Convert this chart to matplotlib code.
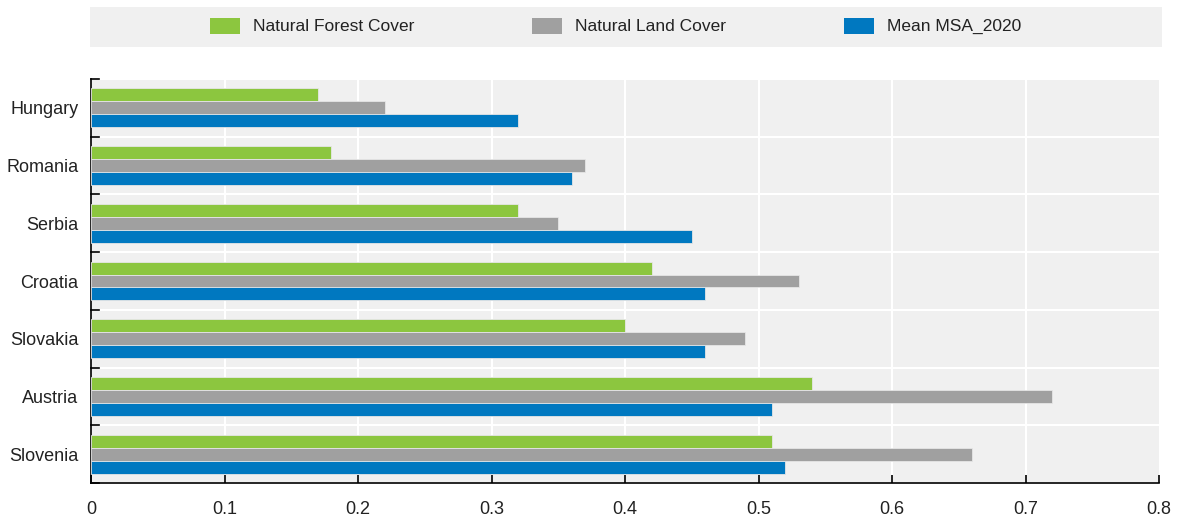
import matplotlib
matplotlib.use("Agg")
import matplotlib.pyplot as plt
from matplotlib.patches import Rectangle
import numpy as np

countries = ["Hungary", "Romania", "Serbia", "Croatia", "Slovakia", "Austria", "Slovenia"]
forest = [0.17, 0.18, 0.32, 0.42, 0.40, 0.54, 0.51]
land = [0.22, 0.37, 0.35, 0.53, 0.49, 0.72, 0.66]
msa = [0.32, 0.36, 0.45, 0.46, 0.46, 0.51, 0.52]
series_names = ["Natural Forest Cover", "Natural Land Cover", "Mean MSA_2020"]
colors = ["#8cc63f", "#a0a0a0", "#0078c0"]
xticks = [0, 0.1, 0.2, 0.3, 0.4, 0.5, 0.6, 0.7, 0.8]
xticklabels = ["0", "0.1", "0.2", "0.3", "0.4", "0.5", "0.6", "0.7", "0.8"]

plt.rcParams['font.family'] = ['Liberation Sans', 'DejaVu Sans']

W, H = 1179, 521
fig = plt.figure(figsize=(W/100, H/100), dpi=100)
ax = fig.add_axes([91/W, 1-483/H, (1159-91)/W, (483-79)/H])
ax.set_facecolor("#f0f0f0")

y = np.arange(len(countries))
h = 0.225
for i, (vals, c) in enumerate(zip([forest, land, msa], colors)):
    ax.barh(y + (i-1)*h, vals, height=h, color=c, edgecolor="#e6e6e6", linewidth=0.6, zorder=3)

ax.set_xlim(0, 0.8)
ax.set_ylim(len(countries)-0.5, -0.5)
ax.set_xticks(xticks)
ax.set_xticklabels(xticklabels, fontsize=13, color="#222222")
ax.set_yticks(y)
ax.set_yticklabels(countries, fontsize=13, color="#222222")
ax.tick_params(axis='y', length=0, pad=9)
ax.tick_params(axis='x', direction='in', length=6, width=1.2, pad=13)
for yb in np.arange(-0.5, len(countries), 1.0):
    ax.axhline(yb, color="white", lw=1.5, zorder=1)
    ax.plot([0, 0.006], [yb, yb], color="black", lw=1.2, zorder=5, clip_on=False)
for xv in xticks[1:-1]:
    ax.axvline(xv, color="white", lw=1.5, zorder=1)
for s in ["top", "right"]:
    ax.spines[s].set_visible(False)
ax.spines["left"].set_linewidth(1.2)
ax.spines["bottom"].set_linewidth(1.2)

# legend band (drawn manually in pixel-based figure coords)
fig.patches.append(Rectangle((90/W, 1-47/H), (1162-90)/W, 40/H, transform=fig.transFigure,
                             facecolor="#f0f0f0", edgecolor="none", zorder=0))
handle_x = [210, 532, 844]
for hx, name, c in zip(handle_x, series_names, colors):
    fig.patches.append(Rectangle((hx/W, 1-34/H), 30/W, 16/H, transform=fig.transFigure,
                                 facecolor=c, edgecolor="none", zorder=1))
    fig.text((hx+43)/W, 1-26.5/H, name, fontsize=12.5, color="#222222", va="center", ha="left")

fig.savefig("out.png", dpi=100)
